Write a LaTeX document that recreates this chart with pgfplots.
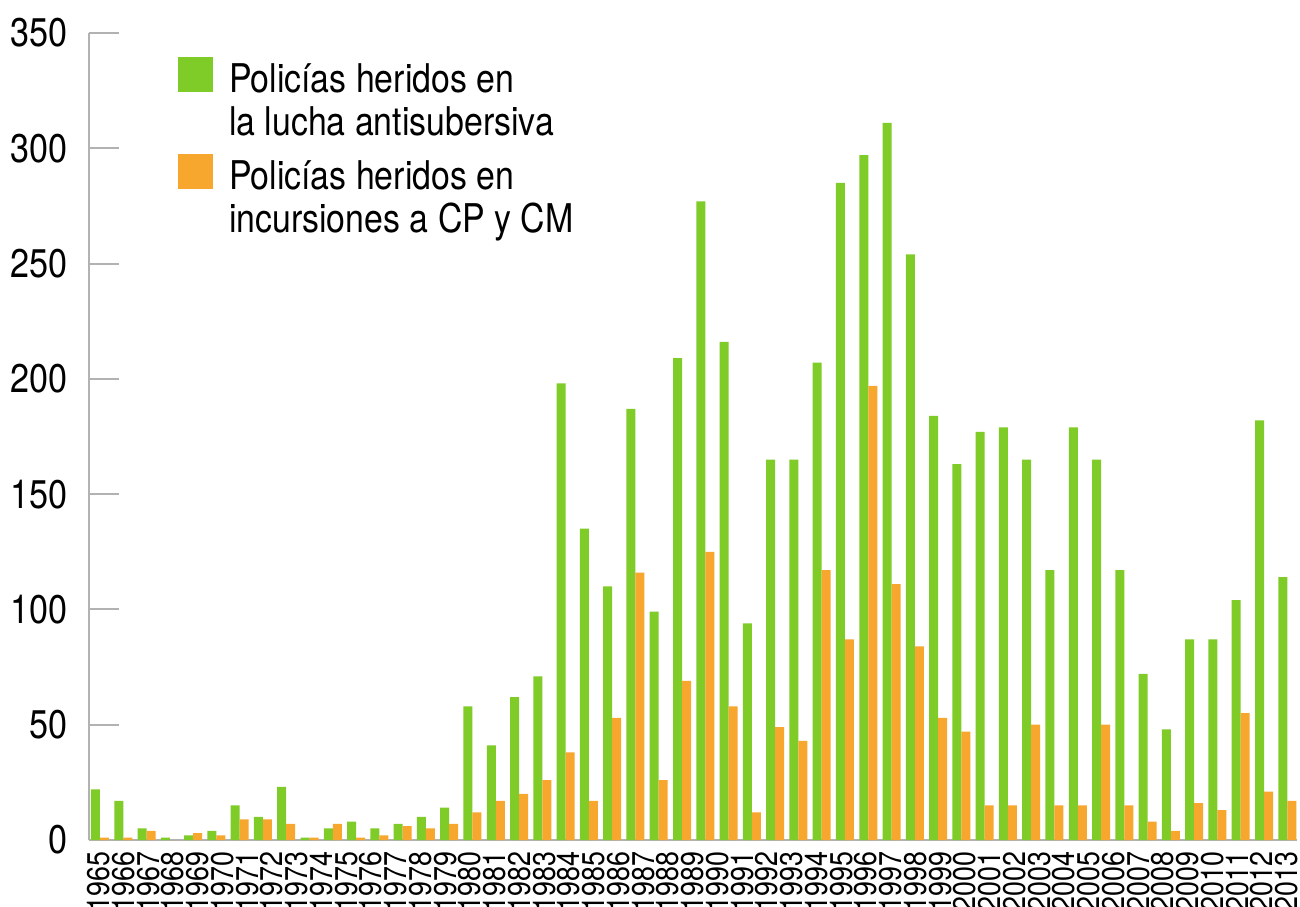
\documentclass[border=0pt]{standalone}
\usepackage{fontspec}
\setmainfont{TeX Gyre Heros}[FakeStretch=0.855]
\usepackage{pgfplots}
\usepackage{pgfplotstable}
\pgfplotsset{compat=1.18}

\definecolor{verde}{RGB}{127,203,39}
\definecolor{naranja}{RGB}{247,166,46}
\definecolor{ejegris}{RGB}{178,178,178}

% x = bar group (52 groups), g = lucha antisubersiva, o = incursiones a CP y CM
\pgfplotstableread{
x g o
0 22 1
1 17 1
2 5 4
3 1 0
4 2 3
5 4 2
6 15 9
7 10 9
8 23 7
9 1 1
10 5 7
11 8 1
12 5 2
13 7 6
14 10 5
15 14 7
16 58 12
17 41 17
18 62 20
19 71 26
20 198 38
21 135 17
22 110 53
23 187 116
24 99 26
25 209 69
26 277 125
27 216 58
28 94 12
29 165 49
30 165 43
31 207 117
32 285 87
33 297 197
34 311 111
35 254 84
36 184 53
37 163 47
38 177 15
39 179 15
40 165 50
41 117 15
42 179 15
43 165 50
44 117 15
45 72 8
46 48 4
47 87 16
48 87 13
49 104 55
50 182 21
51 114 17
}\heridos

\pgfplotsset{sq legend/.style={legend image code/.code={\fill[##1] (0pt,0pt) rectangle (17.5pt,17.5pt);}}}

\begin{document}
\begin{tikzpicture}
\useasboundingbox (-44.5pt,-33pt) rectangle (605.5pt,420pt);
\begin{axis}[
  scale only axis, width=604pt, height=403.5pt,
  ybar=0pt, bar width=0.3866,
  xmin=-0.4725, xmax=51.418, ymin=0, ymax=350,
  axis x line*=bottom, axis y line*=left,
  axis line style={draw=ejegris, line width=1.2pt},
  tick align=inside, major tick length=15pt,
  ytick={0,50,...,350},
  ytick style={draw=ejegris, line width=1pt},
  xtick style={draw=none},
  yticklabel style={font=\fontsize{20}{24}\selectfont, anchor=east, inner sep=0pt, xshift=-10.5pt,
    /pgf/number format/assume math mode=true},
  xtick={-0.052,1.011,2.074,3.137,4.200,5.264,6.327,7.390,8.453,9.516,10.579,11.642,12.705,13.768,14.831,15.895,16.958,18.021,19.084,20.147,21.210,22.273,23.336,24.399,25.462,26.526,27.589,28.652,29.715,30.778,31.841,32.904,33.967,35.030,36.093,37.157,38.220,39.283,40.346,41.409,42.472,43.535,44.598,45.661,46.724,47.788,48.851,49.914,50.977},
  xticklabels={1965,1966,1967,1968,1969,1970,1971,1972,1973,1974,1975,1976,1977,1978,1979,1980,1981,1982,1983,1984,1985,1986,1987,1988,1989,1990,1991,1992,1993,1994,1995,1996,1997,1998,1999,2000,2001,2002,2003,2004,2005,2006,2007,2008,2009,2010,2011,2012,2013},
  xticklabel style={font=\fontsize{15.7}{18}\selectfont, rotate=90, anchor=east, inner sep=0pt},
  xticklabel shift=5.8pt,
  legend style={draw=none, fill=none, at={(axis description cs:0,1)}, anchor=north west,
    xshift=44.5pt, yshift=-12pt, inner sep=0pt, outer sep=0pt,
    font=\fontsize{19.8}{21.5}\selectfont, row sep=29.5pt, column sep=8pt,
    cells={anchor=base west}, nodes={inner sep=0pt, outer sep=0pt}},
]
\addplot[fill=verde, draw=none, sq legend] table[x=x, y=g] {\heridos};
\addlegendentry{\begin{tabular}[t]{@{}l@{}}Policías heridos en\\la lucha antisubersiva\end{tabular}}
\addplot[fill=naranja, draw=none, sq legend] table[x=x, y=o] {\heridos};
\addlegendentry{\begin{tabular}[t]{@{}l@{}}Policías heridos en\\incursiones a CP y CM\end{tabular}}
\end{axis}
\end{tikzpicture}
\end{document}
